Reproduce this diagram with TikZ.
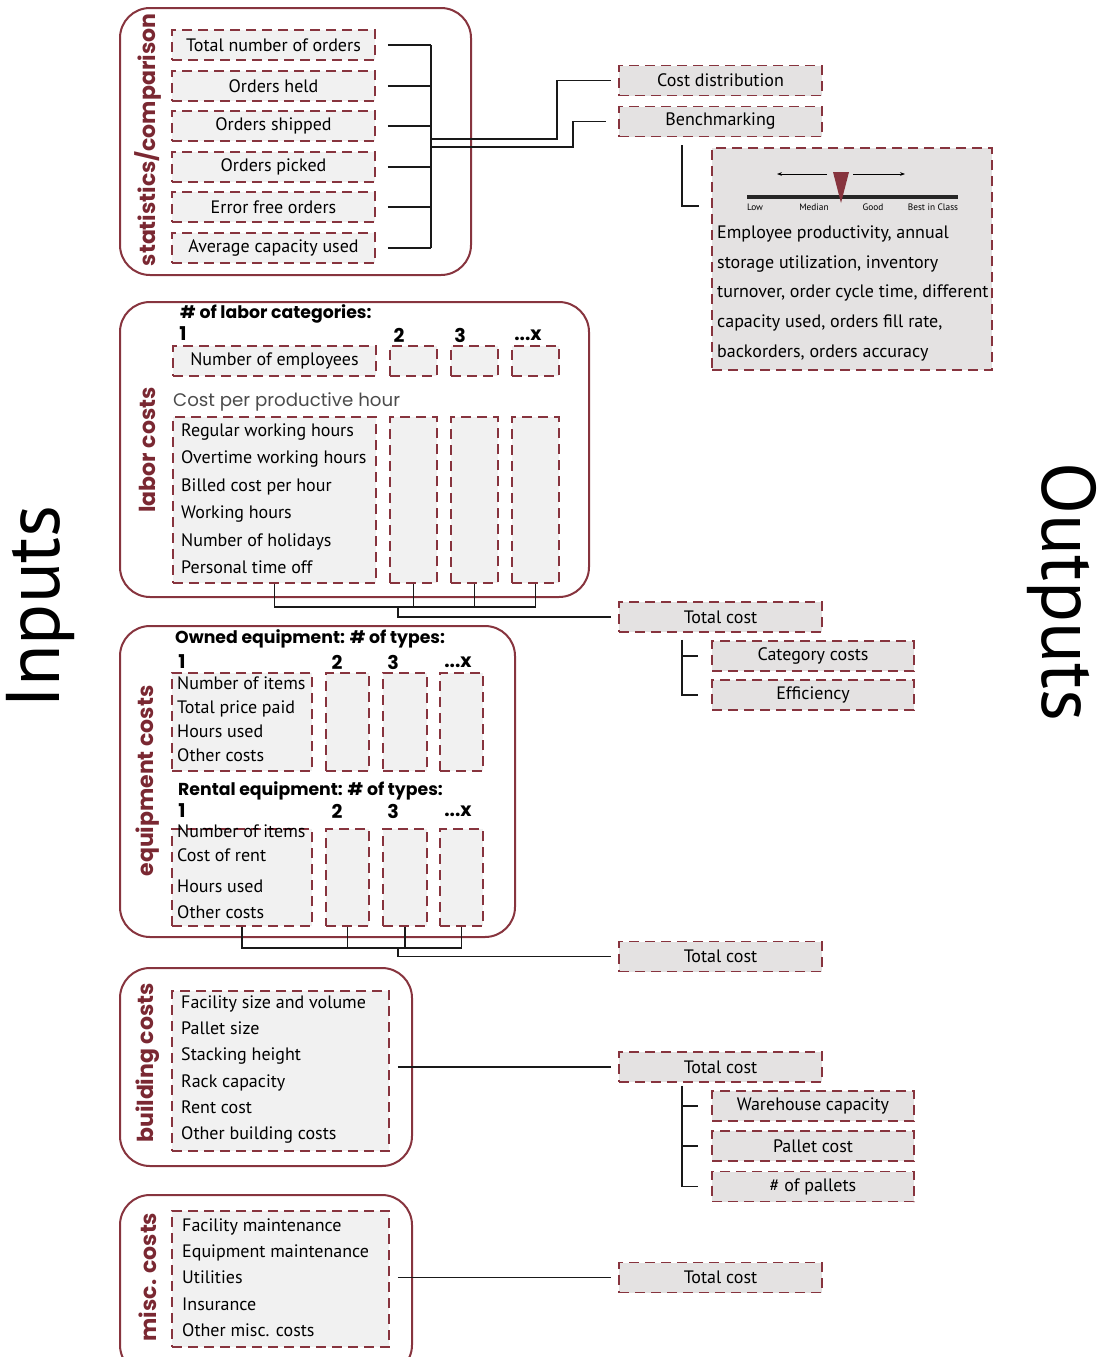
\documentclass[tikz,border=0pt]{standalone}
\usepackage{fontspec}
\setmainfont{PT Sans}
\newfontfamily\headfont{Poppins}
\usetikzlibrary{calc,arrows.meta}
\definecolor{wine}{RGB}{135,52,62}
\definecolor{winetext}{RGB}{122,40,50}
\definecolor{cellgray}{RGB}{241,241,241}
\definecolor{outgray}{RGB}{228,226,226}

\begin{document}
\begin{tikzpicture}[
    x=1pt, y=-1pt,
    cell/.style={
        draw=wine,
        line width=1.8pt,
        dash pattern=on 10pt off 6pt,
        fill=cellgray,
        inner sep=0pt,
        minimum width=203pt,
        minimum height=30pt,
        font=\fontsize{18}{20}\selectfont
    },
    outbox/.style={cell, fill=outgray},
    subbox/.style={outbox, minimum width=202pt},
    group/.style={draw=wine, line width=2pt, rounded corners=30pt, inner sep=0pt},
    glabel/.style={rotate=90, inner sep=0pt, text=winetext,
        font=\headfont\bfseries\fontsize{22}{24}\selectfont},
    head/.style={anchor=west, inner sep=0pt,
        font=\headfont\bfseries\fontsize{17.3}{19}\selectfont},
    num/.style={inner sep=0pt, font=\headfont\bfseries\fontsize{19}{21}\selectfont},
    item/.style={anchor=west, inner sep=0pt, text height=13pt, text depth=4pt,
        font=\fontsize{18}{20}\selectfont},
    tick/.style={inner sep=0pt, font=\fontsize{9.3}{10}\selectfont},
    conn/.style={draw=black!90, line width=1.8pt},
    big/.style={inner sep=0pt, font=\fontsize{76}{80}\selectfont}
]
    \useasboundingbox (0,0) rectangle (1098,1357);
    \clip (0,0) rectangle (1098,1357);

    % --- Inputs / Outputs ---
    \node[big, rotate=90] (inputs) at (40,607) {Inputs};
    \node[big, rotate=-90] (outputs) at (1062,592) {Outputs};

    % --- statistics/comparison ---
    \node[group, minimum width=351pt, minimum height=267pt] (gstat) at (295.5,141.5) {};
    \node[glabel] (lstat) at (148,140) {statistics/comparison};
    \node[cell] (s1) at (273.5,45) {Total number of orders};
    \node[cell] (s2) at (273.5,86) {Orders held};
    \node[cell] (s3) at (273.5,126) {Orders shipped};
    \node[cell] (s4) at (273.5,167) {Orders picked};
    \node[cell] (s5) at (273.5,207) {Error free orders};
    \node[cell] (s6) at (273.5,248) {Average capacity used};

    \coordinate (sbus) at (431,0);
    \foreach \i/\w in {1/2.8,2/1.8,3/1.6,4/2.8,5/1.6,6/2.8}
        \draw[conn, line width=\w pt] ([xshift=12pt]s\i.east) -- (s\i.east -| sbus);
    \draw[conn] (sbus |- s1.east) -- (sbus |- s6.east);

    % --- statistics outputs ---
    \node[outbox] (cd) at (720.5,80.5) {Cost distribution};
    \node[outbox] (bm) at (720.5,121.5) {Benchmarking};

    \coordinate (sout1) at (431,139);
    \coordinate (sout2) at (431,147);
    \coordinate (k1) at (557,0);
    \coordinate (k2) at (573,0);
    \coordinate (k3) at (682,0);
    \draw[conn] (sout1) -| (k1 |- cd.west) -- ([xshift=-7pt]cd.west);
    \draw[conn] (sout2) -| (k2 |- bm.west) -- ([xshift=-12pt]bm.west);

    % benchmark panel
    \node[outbox, minimum width=280pt, minimum height=222pt] (bx) at (852,259) {};
    \coordinate (bxtick) at (699,206);
    \draw[conn] ($(bm.south -| k3)+(0,8)$) |- (bxtick);

    \coordinate (scl) at (747,197);
    \coordinate (scr) at (958,197);
    \draw[line width=3.5pt, black!85] (scl) -- (scr);
    \draw[-{Stealth[length=5pt]}, line width=1pt] (827,174) -- (777,174);
    \draw[-{Stealth[length=5pt]}, line width=1pt] (853,174) -- (905,174);
    \fill[wine] (833,172) -- (849,172) -- (841,203) -- cycle;
    \node[tick] (low) at (755,207) {Low};
    \node[tick] (median) at (814,207) {Median};
    \node[tick] (good) at (873,207) {Good};
    \node[tick] (best) at (933,207) {Best in Class};

    \node[item] (b1) at (717,234) {Employee productivity, annual};
    \node[item] (b2) at (717,264) {storage utilization, inventory};
    \node[item] (b3) at (717,293) {turnover, order cycle time, different};
    \node[item] (b4) at (717,323) {capacity used, orders fill rate,};
    \node[item] (b5) at (717,353) {backorders, orders accuracy};

    % --- labor costs ---
    \node[group, minimum width=469pt, minimum height=295pt] (glab) at (354.5,449.5) {};
    \node[glabel] (llab) at (147,450) {labor costs};
    \node[head] (hlab) at (180,314) {\# of labor categories:};
    \node[num] (ln1) at (183,334) {1};
    \node[num] (ln2) at (399,335) {2};
    \node[num] (ln3) at (460,335) {3};
    \node[num] (lnx) at (528,335) {...x};

    \node[cell] (ne1) at (274.5,361) {Number of employees};
    \node[cell, minimum width=47pt] (ne2) at (413.5,361) {};
    \node[cell, minimum width=47pt] (ne3) at (474.5,361) {};
    \node[cell, minimum width=47pt] (nex) at (535.5,361) {};

    \node[anchor=west, inner sep=0pt, text=black!70,
        font=\headfont\fontsize{18.2}{20}\selectfont] (cpph) at (173,402) {Cost per productive hour};
    \node[cell, minimum height=166pt] (lb1) at (274.5,500) {};
    \node[cell, minimum width=47pt, minimum height=166pt] (lb2) at (413.5,500) {};
    \node[cell, minimum width=47pt, minimum height=166pt] (lb3) at (474.5,500) {};
    \node[cell, minimum width=47pt, minimum height=166pt] (lbx) at (535.5,500) {};
    \foreach \t [count=\i] in {Regular working hours, Overtime working hours,
        Billed cost per hour, Working hours, Number of holidays, Personal time off}
        \node[item] (li\i) at (181,{432+27.4*(\i-1)}) {\t};

    \coordinate (lbus) at (398,607);
    \draw[conn] (lb1.south) |- (lbx.south |- lbus) -- (lbx.south);
    \foreach \c in {lb2,lb3}
        \draw[conn] (\c.south) -- (\c.south |- lbus);

    % labor outputs
    \node[outbox] (tcl) at (720.5,617) {Total cost};
    \node[subbox] (cc) at (813,656) {Category costs};
    \node[subbox] (ef) at (813,695) {Efficiency};
    \draw[conn] (lbus) |- ([xshift=-7pt]tcl.west);
    \draw[conn] ($(tcl.south -| k3)+(0,7)$) |- ([xshift=-13pt]ef.west);
    \draw[conn] (k3 |- cc.west) -- ([xshift=-13pt]cc.west);

    % --- equipment costs ---
    \node[group, minimum width=395pt, minimum height=311pt] (geq) at (317.5,781.5) {};
    \node[glabel] (leq) at (148,781) {equipment costs};

    \node[head] (howned) at (175,639) {Owned equipment: \# of types:};
    \node[num] (on1) at (182,662) {1};
    \node[num] (on2) at (337,662) {2};
    \node[num] (on3) at (393,662) {3};
    \node[num] (onx) at (458,662) {...x};
    \node[cell, minimum width=140pt, minimum height=98pt] (o1) at (242,722) {};
    \node[cell, minimum width=43pt, minimum height=98pt] (o2) at (347.5,722) {};
    \node[cell, minimum width=44pt, minimum height=98pt] (o3) at (405,722) {};
    \node[cell, minimum width=43pt, minimum height=98pt] (ox) at (461.5,722) {};
    \node[item] (oi1) at (177,685) {Number of items};
    \node[item] (oi2) at (177,709) {Total price paid};
    \node[item] (oi3) at (177,733) {Hours used};
    \node[item] (oi4) at (177,757) {Other costs};

    \node[head] (hrent) at (178,791) {Rental equipment: \# of types:};
    \node[num] (rn1) at (182,811) {1};
    \node[num] (rn2) at (337,811) {2};
    \node[num] (rn3) at (393,811) {3};
    \node[num] (rnx) at (458,811) {...x};
    \node[cell, minimum width=140pt, minimum height=97pt] (r1) at (242,877.5) {};
    \node[cell, minimum width=43pt, minimum height=97pt] (r2) at (347.5,877.5) {};
    \node[cell, minimum width=44pt, minimum height=97pt] (r3) at (405,877.5) {};
    \node[cell, minimum width=43pt, minimum height=97pt] (rx) at (461.5,877.5) {};
    \node[item] (ri1) at (177,833) {Number of items};
    \node[item] (ri2) at (177,857) {Cost of rent};
    \node[item] (ri3) at (177,888) {Hours used};
    \node[item] (ri4) at (177,914) {Other costs};

    \coordinate (ebus) at (398,948);
    \draw[conn] (r1.south) |- (rx.south |- ebus) -- (rx.south);
    \foreach \c in {r2,r3}
        \draw[conn] (\c.south) -- (\c.south |- ebus);

    \node[outbox] (tce) at (720.5,956.5) {Total cost};
    \draw[conn] (ebus) |- ([xshift=-7pt]tce.west);

    % --- building costs ---
    \node[group, minimum width=292pt, minimum height=198pt] (gbld) at (266,1067) {};
    \node[glabel] (lbld) at (148,1063) {building costs};
    \node[cell, minimum width=217pt, minimum height=160pt] (bd) at (280.5,1071) {};
    \foreach \t [count=\i] in {Facility size and volume, Pallet size, Stacking height,
        Rack capacity, Rent cost, Other building costs}
        \node[item] (bi\i) at (181,{1004+26.2*(\i-1)}) {\t};

    \node[outbox] (tcb) at (720.5,1067) {Total cost};
    \node[subbox] (wc) at (813,1106) {Warehouse capacity};
    \node[subbox] (pc) at (813,1146) {Pallet cost};
    \node[subbox] (np) at (813,1186.5) {\# of pallets};
    \draw[conn] ($(bd.east |- tcb.west)+(8,0)$) -- ([xshift=-7pt]tcb.west);
    \draw[conn] ($(tcb.south -| k3)+(0,3)$) |- ([xshift=-13pt]np.west);
    \foreach \c in {wc,pc}
        \draw[conn] (k3 |- \c.west) -- ([xshift=-13pt]\c.west);

    % --- misc. costs ---
    \node[group, minimum width=292pt, minimum height=180pt] (gmisc) at (266,1285) {};
    \node[glabel] (lmisc) at (148,1277) {misc. costs};
    \node[cell, minimum width=217pt, minimum height=136pt] (md) at (280.5,1279) {};
    \foreach \t [count=\i] in {Facility maintenance, Equipment maintenance, Utilities,
        Insurance, Other misc. costs}
        \node[item] (mi\i) at (182,{1227+26.2*(\i-1)}) {\t};

    \node[outbox] (tcm) at (720.5,1277.5) {Total cost};
    \draw[conn] ($(md.east |- tcm.west)+(8,0)$) -- ([xshift=-7pt]tcm.west);
\end{tikzpicture}
\end{document}
